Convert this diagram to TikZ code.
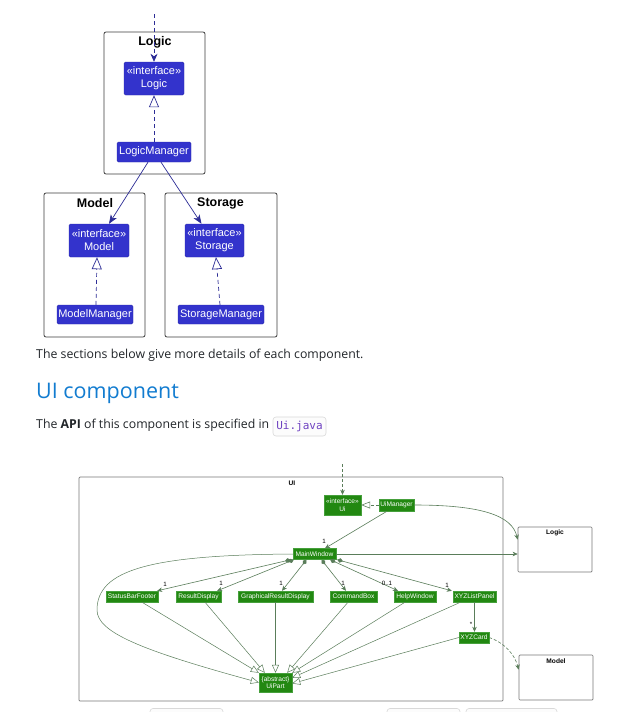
\documentclass[tikz,border=0pt]{standalone}
\usepackage{fontspec}
\setmainfont{Open Sans}
\newfontfamily\diag{Liberation Sans}
\newfontfamily\codefont{DejaVu Sans Mono}
\usetikzlibrary{arrows.meta,calc}
\definecolor{tblue}{RGB}{51,51,204}
\definecolor{tline}{RGB}{45,45,150}
\definecolor{ugreen}{RGB}{34,136,17}
\definecolor{uborder}{RGB}{70,160,60}
\definecolor{uline}{RGB}{90,125,90}
\definecolor{headblue}{RGB}{18,124,208}
\definecolor{txt}{RGB}{33,37,41}
\definecolor{codepurple}{RGB}{111,66,193}
\definecolor{pkggray}{RGB}{60,60,60}
\definecolor{upkggray}{RGB}{120,120,120}
\tikzset{
  bnode/.style={fill=tblue, draw=tblue!85!black, line width=0.4pt, text=white, font=\diag\fontsize{11}{13}\selectfont, inner sep=0pt, rounded corners=1.5pt, align=center},
  tpkg/.style={draw=pkggray, line width=0.8pt, rounded corners=2pt, inner sep=0pt},
  ttitle/.style={font=\diag\bfseries\fontsize{12.5}{14}\selectfont, inner sep=0pt, text=black},
  tdep/.style={draw=tline, line width=0.7pt, dash pattern=on 4pt off 3pt, -{Stealth[length=8pt,width=7pt,inset=2.5pt]}},
  treal/.style={draw=tline, line width=0.7pt, dash pattern=on 4pt off 3pt, -{Triangle[open,length=12pt,width=10pt]}},
  tassoc/.style={draw=tline, line width=0.7pt, -{Stealth[length=9pt,width=7pt,inset=2.5pt]}},
  unode/.style={fill=ugreen, draw=uborder, line width=0.4pt, text=white, font=\diag\fontsize{6.6}{7.6}\selectfont, inner sep=0pt, align=center},
  upkg/.style={draw=upkggray, line width=0.7pt, rounded corners=1pt, inner sep=0pt},
  utitle/.style={font=\diag\bfseries\fontsize{6.6}{7}\selectfont, inner sep=0pt, text=black},
  ulab/.style={font=\diag\fontsize{6.2}{7}\selectfont, inner sep=0pt, text=black},
  uassoc/.style={draw=uline, line width=0.6pt, -{Stealth[length=5pt,width=4.5pt,inset=1.5pt]}},
  ucomp/.style={draw=uline, line width=0.6pt, {Diamond[length=6pt,width=4.5pt]}-{Stealth[length=5pt,width=4.5pt,inset=1.5pt]}},
  udep/.style={draw=uline, line width=0.6pt, dash pattern=on 3pt off 2pt, -{Stealth[length=5pt,width=4.5pt,inset=1.5pt]}},
  ureal/.style={draw=uline, line width=0.6pt, dash pattern=on 3pt off 2pt, -{Triangle[open,length=9pt,width=7pt]}},
  uinh/.style={draw=uline, line width=0.5pt, -{Triangle[open,length=8pt,width=7pt]}},
  pagetext/.style={anchor=base west, inner sep=0pt, text=txt, font=\fontsize{12.3}{15}\selectfont},
  codebox/.style={draw=black!15, fill=black!1, rounded corners=3pt, line width=0.6pt, inner sep=0pt, text=codepurple, font=\codefont\fontsize{11}{13}\selectfont},
}
\begin{document}
\begin{tikzpicture}[x=1pt,y=-1pt]
\useasboundingbox[fill=white] (0,0) rectangle (632,712);

% ---------------- top diagram ----------------
\node[tpkg, minimum width=101pt, minimum height=142pt] (logicpkg) at (154.5,103) {};
\node[ttitle] (logict) at (155,42) {Logic};
\node[tpkg, minimum width=101pt, minimum height=144pt] (modelpkg) at (94.5,265) {};
\node[ttitle] (modelt) at (95,203) {Model};
\node[tpkg, minimum width=112pt, minimum height=144pt] (storagepkg) at (221,265) {};
\node[ttitle] (storaget) at (220.5,203) {Storage};

\node[bnode, minimum width=60pt, minimum height=33pt] (logicif) at (154,78.5) {«interface»\\Logic};
\node[bnode, minimum width=74pt, minimum height=20pt] (logicmgr) at (154,152) {LogicManager};
\node[bnode, minimum width=60pt, minimum height=33pt] (modelif) at (99,240.5) {«interface»\\Model};
\node[bnode, minimum width=76pt, minimum height=19pt] (modelmgr) at (95,314.5) {ModelManager};
\node[bnode, minimum width=59pt, minimum height=33pt] (storageif) at (214.5,240.5) {«interface»\\Storage};
\node[bnode, minimum width=86pt, minimum height=19pt] (storagemgr) at (221,314.5) {StorageManager};

\coordinate (logicin) at (154,14);
\draw[tdep] (logicin) -- (logicif.north);
\draw[treal] (logicmgr.north) -- (logicif.south);
\draw[tassoc] ([xshift=-6pt]logicmgr.south) -- ([xshift=10pt]modelif.north);
\draw[tassoc] ([xshift=7pt]logicmgr.south) -- ([xshift=-13pt]storageif.north);
\draw[treal] ([xshift=1pt]modelmgr.north) -- ([xshift=-2pt]modelif.south);
\draw[treal] ([xshift=-1pt]storagemgr.north) -- ([xshift=1.5pt]storageif.south);

% ---------------- page text ----------------
\node[pagetext] (sect) at (36,358) {The sections below give more details of each component.};
\node[anchor=base west, inner sep=0pt, text=headblue, font=\fontsize{21.5}{26}\selectfont] (heading) at (36,398) {UI component};
\node[pagetext] (api) at (36,428) {The \textbf{API} of this component is specified in};
\node[codebox, minimum width=53pt, minimum height=19pt] (code) at (299.5,426.5) {Ui.java};

% ---------------- UI diagram ----------------
\node[upkg, minimum width=424pt, minimum height=224pt] (uipkg) at (291,589) {};
\node[utitle] (uit) at (292,483.5) {UI};
\node[upkg, minimum width=74pt, minimum height=45pt] (logicbox) at (555,549.5) {};
\node[utitle] (logicboxt) at (555,533) {Logic};
\node[upkg, minimum width=74pt, minimum height=45pt] (modelbox) at (556,677.5) {};
\node[utitle] (modelboxt) at (556,661) {Model};

\node[unode, minimum width=37pt, minimum height=20pt] (uiif) at (342.5,505) {«interface»\\Ui};
\node[unode, minimum width=35pt, minimum height=12pt] (uimgr) at (396.5,505) {UiManager};
\node[unode, minimum width=43pt, minimum height=11pt] (mainwin) at (314.5,554) {MainWindow};
\node[unode, minimum width=52pt, minimum height=11pt] (sbf) at (132,596.5) {StatusBarFooter};
\node[unode, minimum width=45pt, minimum height=11pt] (rd) at (198.5,596.5) {ResultDisplay};
\node[unode, minimum width=75pt, minimum height=11pt] (grd) at (275.5,596.5) {GraphicalResultDisplay};
\node[unode, minimum width=47pt, minimum height=11pt] (cb) at (353.5,596.5) {CommandBox};
\node[unode, minimum width=42pt, minimum height=11pt] (hw) at (415,596.5) {HelpWindow};
\node[unode, minimum width=43pt, minimum height=11pt] (xlp) at (474.5,596.5) {XYZListPanel};
\node[unode, minimum width=30pt, minimum height=11pt] (xcard) at (474,637.5) {XYZCard};
\node[unode, minimum width=33pt, minimum height=19pt] (uipart) at (275.5,682.5) {\{abstract\}\\UiPart};

\coordinate (uiin) at (342.5,464);
\draw[udep] (uiin) -- (uiif.north);
\draw[ureal] (uimgr.west) -- (uiif.east);
\draw[uassoc] (uimgr.east) .. controls (480,505) and (512,515) .. ($(logicbox.north west)+(0,13)$);
\draw[uassoc] ([xshift=-9.5pt]uimgr.south) -- ([xshift=10.5pt]mainwin.north);
\node[ulab] (l0) at (324,541) {1};
\draw[uassoc] (mainwin.east) -- (mainwin.east -| logicbox.west);

\draw[ucomp] ([xshift=-2pt]mainwin.south west) -- ([xshift=-1pt]sbf.north east);
\node[ulab] (l1) at (165,584) {1};
\draw[ucomp] ([xshift=1pt]mainwin.south west) -- ([xshift=-4pt]rd.north east);
\node[ulab] (l2) at (221,583) {1};
\draw[ucomp] ([xshift=-8pt]mainwin.south) -- ([xshift=6.5pt]grd.north);
\node[ulab] (l3) at (281,583) {1};
\draw[ucomp] ([xshift=7pt]mainwin.south) -- ([xshift=-7.5pt]cb.north);
\node[ulab] (l4) at (343,583) {1};
\draw[ucomp] ([xshift=-6pt]mainwin.south east) -- ([xshift=-17pt]hw.north);
\node[ulab] (l5) at (387,583) {0..1};
\draw[ucomp] ([xshift=1pt]mainwin.south east) -- ([xshift=-1pt]xlp.north west);
\node[ulab] (l6) at (447,585) {1};

\draw[uassoc] (xlp.south) -- (xlp.south |- xcard.north);
\node[ulab] (l7) at (471,624) {*};
\draw[udep] (xcard.east) .. controls (505,643) and (515,655) .. ($(modelbox.north west)+(0,15)$);

\draw[uinh] ([xshift=10pt]sbf.south) -- (uipart.north west);
\draw[uinh] ([xshift=6.5pt]rd.south) -- ([xshift=6pt]uipart.north west);
\draw[uinh] (grd.south) -- (uipart.north);
\draw[uinh] ([xshift=-5.5pt]cb.south) -- ([xshift=-5pt]uipart.north east);
\draw[uinh] ([xshift=-10pt]hw.south) -- (uipart.north east);
\draw[uinh] ([xshift=-14pt]xlp.south) -- ($(uipart.north east)+(0,5)$);
\draw[uinh] (xcard.west) -- ($(uipart.east)+(0,1)$);
\draw[uinh] (mainwin.west) .. controls (150,555) and (97,570) .. (97,610) .. controls (97,632) and (140,650) .. (uipart.west);

% ---------------- cut-off code boxes at bottom ----------------
\node[codebox, minimum width=73pt, minimum height=20pt] (cbx1) at (186.5,718.5) {};
\node[codebox, minimum width=73pt, minimum height=20pt] (cbx2) at (423.5,718.5) {};
\node[codebox, minimum width=91pt, minimum height=20pt] (cbx3) at (511.5,718.5) {};
\end{tikzpicture}
\end{document}
